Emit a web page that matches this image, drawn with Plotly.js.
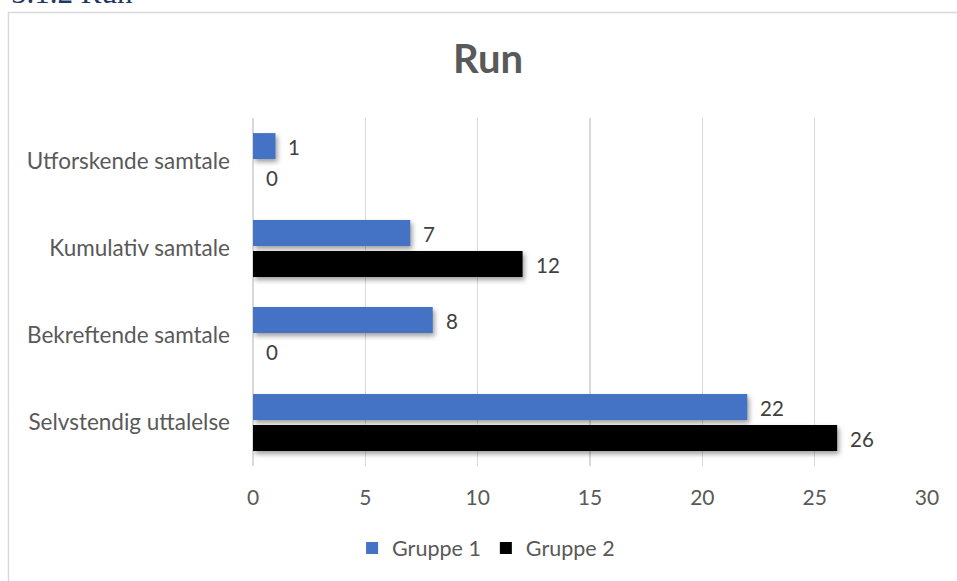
<!DOCTYPE html>
<html>
<head>
<meta charset="utf-8">
<script src="https://cdn.plot.ly/plotly-3.0.1.min.js"></script>
<style>
  html, body { margin: 0; padding: 0; background: #ffffff; }
  #chart { width: 957px; height: 581px; }
  /* soft drop shadow under the bars */
  .barlayer .bars path { filter: drop-shadow(2px 3px 2.5px rgba(0,0,0,0.38)); }
</style>
</head>
<body>
<div id="chart"></div>
<script>
// Category labels, top to bottom
const categories = ['Utforskende samtale', 'Kumulativ samtale', 'Bekreftende samtale', 'Selvstendig uttalelse'];
// Counts per group
const gruppe1 = [1, 7, 8, 22];
const gruppe2 = [0, 12, 0, 26];
const seriesNames = ['Gruppe 1', 'Gruppe 2'];
const xTicks = [0, 5, 10, 15, 20, 25, 30];

const FONT = 'Lato, "Open Sans", sans-serif';
const BLUE = '#4472C4';
const BLACK = '#000000';

const traces = [
  { type: 'bar', orientation: 'h', name: seriesNames[0], y: categories, x: gruppe1,
    marker: { color: BLUE }, hoverinfo: 'x+name' },
  { type: 'bar', orientation: 'h', name: seriesNames[1], y: categories, x: gruppe2,
    marker: { color: BLACK }, hoverinfo: 'x+name' }
];

// value labels just to the right of each bar end
const annotations = [];
[gruppe1, gruppe2].forEach((vals, s) => {
  vals.forEach((v, i) => {
    annotations.push({
      x: v, y: categories[i], xref: 'x', yref: 'y',
      text: String(v), showarrow: false,
      xanchor: 'left', yanchor: 'middle',
      xshift: 11, yshift: s === 0 ? 15 : -16,
      font: { family: FONT, size: 20.5, color: '#404040' }
    });
  });
});

// section heading above the chart frame
annotations.push({
  xref: 'paper', yref: 'paper', x: -0.362, y: 1.306,
  xanchor: 'left', yanchor: 'bottom', showarrow: false,
  text: '5.1.2 Run',
  font: { family: '"Liberation Serif", "DejaVu Serif", serif', size: 31, color: '#1F3864' }
});

const layout = {
  width: 957, height: 581,
  margin: { l: 253, r: 30, t: 118, b: 115, pad: 0 },
  paper_bgcolor: '#ffffff', plot_bgcolor: '#ffffff',
  font: { family: FONT, size: 20, color: '#595959' },
  title: {
    text: '<b>Run</b>', xref: 'container', yref: 'container',
    x: 0.51, xanchor: 'center', y: 0.898, yanchor: 'middle',
    font: { family: FONT, size: 40, color: '#595959' }
  },
  barmode: 'group',
  bargap: 0.29,
  bargroupgap: 0.16,
  xaxis: {
    range: [0, 30], tickvals: xTicks, ticktext: xTicks.map(String),
    showgrid: true, gridcolor: '#d9d9d9', gridwidth: 1.5,
    zeroline: true, zerolinecolor: '#d9d9d9', zerolinewidth: 1.5,
    showline: false, ticks: '', ticklabelstandoff: 17,
    tickfont: { family: FONT, size: 21, color: '#595959' }, fixedrange: true
  },
  yaxis: {
    type: 'category', categoryorder: 'array', categoryarray: categories,
    autorange: 'reversed',
    showgrid: false, zeroline: false, showline: false, ticks: '',
    ticklabelstandoff: 22,
    tickfont: { family: FONT, size: 22.5, color: '#595959' }, fixedrange: true
  },
  showlegend: true,
  legend: {
    orientation: 'h', x: 0.147, xref: 'paper', xanchor: 'left',
    y: -0.236, yanchor: 'middle', itemwidth: 30,
    font: { family: FONT, size: 21.5, color: '#595959' },
    bgcolor: 'rgba(0,0,0,0)'
  },
  annotations: annotations,
  shapes: [{
    type: 'rect', xref: 'paper', yref: 'paper',
    x0: -0.3628, x1: 1.12, y0: -0.4, y1: 1.3032,
    line: { color: '#d9d9d9', width: 1.5 }, fillcolor: 'rgba(0,0,0,0)', layer: 'below'
  }]
};

Plotly.newPlot('chart', traces, layout, { displayModeBar: false, staticPlot: true });
</script>
</body>
</html>
